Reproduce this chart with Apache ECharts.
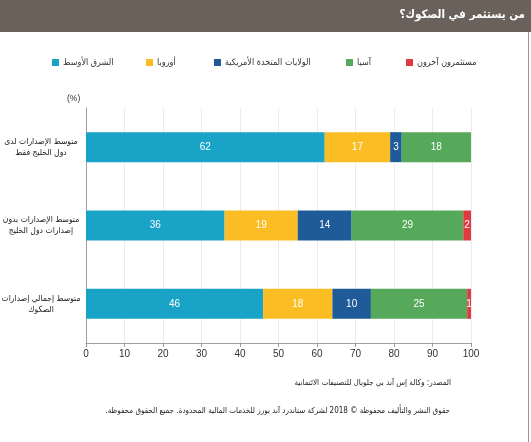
<!DOCTYPE html>
<html><head><meta charset="utf-8">
<script src="https://cdn.jsdelivr.net/npm/echarts@6/dist/echarts.min.js"></script>
<style>html,body{margin:0;padding:0;background:#fff}#c{width:531px;height:442px}</style>
</head><body><div id="c"></div>
<script>
const categories = [
  'متوسط الإصدارات لدى\nدول الخليج فقط',
  'متوسط الإصدارات بدون\nإصدارات دول الخليج',
  'متوسط إجمالي إصدارات\nالصكوك'
];
const seriesNames = ['الشرق الأوسط', 'أوروبا', 'الولايات المتحدة الأمريكية', 'آسيا', 'مستثمرون آخرون'];
const middleEast = [62, 36, 46];
const europe = [17, 19, 18];
const usa = [3, 14, 10];
const asia = [18, 29, 25];
const others = [0, 2, 1];
const xTicks = [0, 10, 20, 30, 40, 50, 60, 70, 80, 90, 100];

const colors = ['#18a3c7', '#fbbd24', '#1f5b98', '#56a95a', '#e0393f'];
const values = [middleEast, europe, usa, asia, others];
const legendLeft = [52, 146, 214, 346, 406];
const FONT = 'Liberation Sans, DejaVu Sans Condensed, DejaVu Sans, sans-serif';
const AFONT = 'DejaVu Sans Condensed, DejaVu Sans, sans-serif';
const RLM = '\u200F';

const chart = echarts.init(document.getElementById('c'));
chart.setOption({
  animation: false,
  textStyle: { fontFamily: FONT },
  grid: { left: 86, right: 60, top: 108, bottom: 99, containLabel: false, outerBoundsMode: 'none' },
  legend: seriesNames.map((n, i) => ({
    data: [n], left: legendLeft[i], top: 58, padding: 0,
    itemWidth: 7, itemHeight: 7, itemGap: 4, icon: 'rect',
    textStyle: { fontSize: 9, color: '#333', fontFamily: AFONT, padding: [0, 0, 0, -1] }
  })),
  xAxis: {
    type: 'value', min: 0, max: 100, interval: 10,
    axisLine: { show: true, lineStyle: { color: '#a39d96' } },
    axisTick: { show: true, length: 4, lineStyle: { color: '#a39d96' } },
    axisLabel: { fontSize: 10, color: '#333', margin: 6,
      formatter: v => xTicks.includes(v) ? String(v) : '' },
    splitLine: { lineStyle: { color: '#ececec' } }
  },
  yAxis: {
    type: 'category', data: categories, inverse: true,
    axisLine: { lineStyle: { color: '#a39d96' } },
    axisTick: { length: 4, lineStyle: { color: '#a39d96' } },
    axisLabel: { fontSize: 8.5, color: '#222', margin: 45, lineHeight: 11, align: 'center', fontFamily: AFONT }
  },
  series: seriesNames.map((n, i) => ({
    name: n, type: 'bar', stack: 'all', barWidth: 30,
    itemStyle: { color: colors[i] },
    label: { show: true, color: '#fff', fontSize: 10,
      formatter: p => p.value > 0 ? String(p.value) : '' },
    data: values[i]
  })),
  graphic: [
    { type: 'rect', shape: { x: 0, y: 0, width: 531, height: 32 }, style: { fill: '#69615a' }, silent: true },
    { type: 'text', right: 6, top: 9, style: { text: 'من يستثمر في الصكوك؟', fill: '#fff', font: 'bold 11.5px ' + AFONT } },
    { type: 'line', shape: { x1: 528.5, y1: 32, x2: 528.5, y2: 442 }, style: { stroke: '#9c958f', lineWidth: 1 } },
    { type: 'text', left: 67, top: 94, style: { text: '(%)', fill: '#333', font: '8.5px ' + FONT } },
    { type: 'text', right: 80, top: 379, style: { text: 'المصدر: وكالة إس آند بي جلوبال للتصنيفات الائتمانية' + RLM, fill: '#222', font: '8px ' + AFONT } },
    { type: 'text', right: 81, top: 407, style: { text: RLM + 'حقوق النشر والتأليف محفوظة © 2018 لشركة ستاندرد آند بورز للخدمات المالية المحدودة. جميع الحقوق محفوظة.' + RLM, fill: '#222', font: '8px ' + AFONT } }
  ]
});
</script></body></html>
